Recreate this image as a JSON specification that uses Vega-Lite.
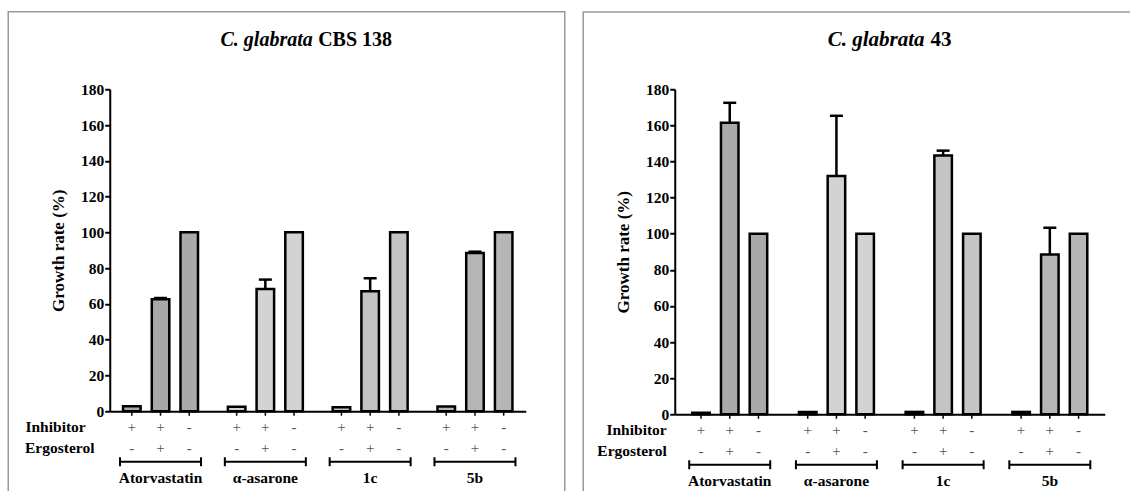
{
  "$schema": "https://vega.github.io/schema/vega-lite/v6.json",
  "padding": {"left": 6.75, "top": 10.25, "right": 0, "bottom": 0},
  "spacing": 16,
  "config": {
    "view": {"stroke": null},
    "font": "Liberation Serif",
    "text": {"font": "Liberation Serif"},
    "axisY": {
      "labelFont": "Liberation Serif", "labelFontWeight": "bold", "labelFontSize": 15.5, "labelColor": "black", "labelOverlap": false,
      "tickCount": 10, "tickColor": "black", "tickWidth": 2, "tickSize": 5, "labelPadding": 1,
      "domainColor": "black", "domainWidth": 2, "grid": false,
      "titleFont": "Liberation Serif", "titleFontWeight": "bold", "titleFontSize": 17, "titleColor": "black", "titlePadding": 13
    }
  },
  "datasets": {
    "bars": [
      {"strain": "CBS 138", "group": "Atorvastatin", "cond": "inh", "inhibitor": "+", "ergosterol": "-", "value": 2.8, "err_top": null},
      {"strain": "CBS 138", "group": "Atorvastatin", "cond": "inh+erg", "inhibitor": "+", "ergosterol": "+", "value": 62.6, "err_top": 63.3},
      {"strain": "CBS 138", "group": "Atorvastatin", "cond": "ctrl", "inhibitor": "-", "ergosterol": "-", "value": 100, "err_top": null},
      {"strain": "CBS 138", "group": "α-asarone", "cond": "inh", "inhibitor": "+", "ergosterol": "-", "value": 2.5, "err_top": null},
      {"strain": "CBS 138", "group": "α-asarone", "cond": "inh+erg", "inhibitor": "+", "ergosterol": "+", "value": 68.4, "err_top": 73.6},
      {"strain": "CBS 138", "group": "α-asarone", "cond": "ctrl", "inhibitor": "-", "ergosterol": "-", "value": 100, "err_top": null},
      {"strain": "CBS 138", "group": "1c", "cond": "inh", "inhibitor": "+", "ergosterol": "-", "value": 2.3, "err_top": null},
      {"strain": "CBS 138", "group": "1c", "cond": "inh+erg", "inhibitor": "+", "ergosterol": "+", "value": 67.1, "err_top": 74.3},
      {"strain": "CBS 138", "group": "1c", "cond": "ctrl", "inhibitor": "-", "ergosterol": "-", "value": 100, "err_top": null},
      {"strain": "CBS 138", "group": "5b", "cond": "inh", "inhibitor": "+", "ergosterol": "-", "value": 2.7, "err_top": null},
      {"strain": "CBS 138", "group": "5b", "cond": "inh+erg", "inhibitor": "+", "ergosterol": "+", "value": 88.5, "err_top": 89.2},
      {"strain": "CBS 138", "group": "5b", "cond": "ctrl", "inhibitor": "-", "ergosterol": "-", "value": 100, "err_top": null},
      {"strain": "43", "group": "Atorvastatin", "cond": "inh", "inhibitor": "+", "ergosterol": "-", "value": 0.8, "err_top": null},
      {"strain": "43", "group": "Atorvastatin", "cond": "inh+erg", "inhibitor": "+", "ergosterol": "+", "value": 161.5, "err_top": 172.5},
      {"strain": "43", "group": "Atorvastatin", "cond": "ctrl", "inhibitor": "-", "ergosterol": "-", "value": 100, "err_top": null},
      {"strain": "43", "group": "α-asarone", "cond": "inh", "inhibitor": "+", "ergosterol": "-", "value": 1.2, "err_top": null},
      {"strain": "43", "group": "α-asarone", "cond": "inh+erg", "inhibitor": "+", "ergosterol": "+", "value": 132, "err_top": 165.3},
      {"strain": "43", "group": "α-asarone", "cond": "ctrl", "inhibitor": "-", "ergosterol": "-", "value": 100, "err_top": null},
      {"strain": "43", "group": "1c", "cond": "inh", "inhibitor": "+", "ergosterol": "-", "value": 1.3, "err_top": null},
      {"strain": "43", "group": "1c", "cond": "inh+erg", "inhibitor": "+", "ergosterol": "+", "value": 143.3, "err_top": 146},
      {"strain": "43", "group": "1c", "cond": "ctrl", "inhibitor": "-", "ergosterol": "-", "value": 100, "err_top": null},
      {"strain": "43", "group": "5b", "cond": "inh", "inhibitor": "+", "ergosterol": "-", "value": 1.3, "err_top": null},
      {"strain": "43", "group": "5b", "cond": "inh+erg", "inhibitor": "+", "ergosterol": "+", "value": 88.5, "err_top": 103.3},
      {"strain": "43", "group": "5b", "cond": "ctrl", "inhibitor": "-", "ergosterol": "-", "value": 100, "err_top": null}
    ]
  },
  "hconcat": [
    {
      "width": 416, "height": 322,
      "resolve": {"scale": {"x": "independent"}},
      "layer": [
        {
          "data": {"name": "bars"},
          "transform": [{"filter": "datum.strain === 'CBS 138'"}],
          "encoding": {
            "x": {"field": "group", "type": "nominal", "scale": {"domain": ["Atorvastatin", "α-asarone", "1c", "5b"], "paddingInner": 0.178, "paddingOuter": 0.0735},
                  "axis": {"title": null, "labels": false, "ticks": false, "domain": true, "domainColor": "black", "domainWidth": 2}},
            "xOffset": {"field": "cond", "type": "nominal", "scale": {"domain": ["inh", "inh+erg", "ctrl"], "paddingInner": 0.39, "paddingOuter": 0.195}}
          },
          "layer": [
            {
              "mark": {"type": "bar", "stroke": "black", "strokeWidth": 2.5},
              "encoding": {
                "y": {"field": "value", "type": "quantitative", "scale": {"domain": [0, 180], "nice": false},
                      "axis": {"title": "Growth rate (%)", "labelOverlap": false, "tickCount": 10, "values": [0, 20, 40, 60, 80, 100, 120, 140, 160, 180]}},
                "fill": {"field": "group", "type": "nominal", "scale": {"domain": ["Atorvastatin", "α-asarone", "1c", "5b"], "range": ["#a9a9a9", "#d3d3d3", "#c4c4c4", "#b6b6b6"]}, "legend": null}
              }
            },
            {
              "transform": [{"filter": "isValid(datum.err_top)"}],
              "mark": {"type": "rule", "color": "black", "strokeWidth": 2.5},
              "encoding": {"y": {"field": "value", "type": "quantitative"}, "y2": {"field": "err_top"}}
            },
            {
              "transform": [{"filter": "isValid(datum.err_top)"}],
              "mark": {"type": "tick", "color": "black", "thickness": 2.5, "size": 13, "opacity": 1},
              "encoding": {"y": {"field": "err_top", "type": "quantitative"}}
            },
            {
              "mark": {"type": "rule", "color": "black", "strokeWidth": 1.5},
              "encoding": {"y": {"datum": 0}, "y2": {"datum": -2.5}}
            },
            {
              "mark": {"type": "text", "font": "Liberation Serif", "fontSize": 15, "color": "#555", "baseline": "middle"},
              "encoding": {"y": {"datum": -9.0}, "text": {"field": "inhibitor"}}
            },
            {
              "mark": {"type": "text", "font": "Liberation Serif", "fontSize": 15, "color": "#555", "baseline": "middle"},
              "encoding": {"y": {"datum": -20.6}, "text": {"field": "ergosterol"}}
            },
            {
              "transform": [{"filter": "datum.cond === 'inh+erg'"}],
              "mark": {"type": "point", "shape": "M-1,0L1,0M-1,-0.111L-1,0.111M1,-0.111L1,0.111", "size": 6561, "filled": false, "color": "black", "strokeWidth": 2, "opacity": 1},
              "encoding": {"y": {"datum": -28.2}}
            },
            {
              "transform": [{"filter": "datum.cond === 'inh+erg'"}],
              "mark": {"type": "text", "font": "Liberation Serif", "fontSize": 15.5, "fontWeight": "bold", "color": "black", "baseline": "middle"},
              "encoding": {"y": {"datum": -37.2}, "text": {"field": "group"}}
            }
          ]
        },
        {
          "data": {"values": [{}]},
          "layer": [
            {
              "mark": {"type": "rect", "fill": "white", "fillOpacity": 0, "stroke": "#9a9a9a", "strokeWidth": 1.5},
              "encoding": {
                "x": {"datum": -0.244, "type": "quantitative", "scale": {"domain": [0, 1], "nice": false, "zero": false}, "axis": null},
                "x2": {"datum": 1.0938},
                "y": {"datum": 223.3, "type": "quantitative"},
                "y2": {"datum": -60}
              }
            },
            {
              "mark": {"type": "text", "font": "Liberation Serif", "fontSize": 20, "fontWeight": "bold", "fontStyle": "italic", "align": "right", "baseline": "alphabetic", "color": "black"},
              "encoding": {"x": {"datum": 0.488, "type": "quantitative"}, "y": {"datum": 204.2, "type": "quantitative"}, "text": {"value": "C. glabrata"}}
            },
            {
              "mark": {"type": "text", "font": "Liberation Serif", "fontSize": 20, "fontWeight": "bold", "align": "left", "baseline": "alphabetic", "color": "black"},
              "encoding": {"x": {"datum": 0.501, "type": "quantitative"}, "y": {"datum": 204.2, "type": "quantitative"}, "text": {"value": "CBS 138"}}
            },
            {
              "mark": {"type": "text", "font": "Liberation Serif", "fontSize": 15.5, "fontWeight": "bold", "align": "right", "baseline": "middle", "color": "black"},
              "encoding": {"x": {"datum": -0.0577, "type": "quantitative"}, "y": {"datum": -9.0, "type": "quantitative"}, "text": {"value": "Inhibitor"}}
            },
            {
              "mark": {"type": "text", "font": "Liberation Serif", "fontSize": 15.5, "fontWeight": "bold", "align": "right", "baseline": "middle", "color": "black"},
              "encoding": {"x": {"datum": -0.0368, "type": "quantitative"}, "y": {"datum": -20.6, "type": "quantitative"}, "text": {"value": "Ergosterol"}}
            }
          ]
        }
      ]
    },
    {
      "width": 430, "height": 325,
      "resolve": {"scale": {"x": "independent"}},
      "layer": [
        {
          "data": {"name": "bars"},
          "transform": [{"filter": "datum.strain === '43'"}],
          "encoding": {
            "x": {"field": "group", "type": "nominal", "scale": {"domain": ["Atorvastatin", "α-asarone", "1c", "5b"], "paddingInner": 0.193, "paddingOuter": 0.1115},
                  "axis": {"title": null, "labels": false, "ticks": false, "domain": true, "domainColor": "black", "domainWidth": 2}},
            "xOffset": {"field": "cond", "type": "nominal", "scale": {"domain": ["inh", "inh+erg", "ctrl"], "paddingInner": 0.39, "paddingOuter": 0.195}}
          },
          "layer": [
            {
              "mark": {"type": "bar", "stroke": "black", "strokeWidth": 2.5},
              "encoding": {
                "y": {"field": "value", "type": "quantitative", "scale": {"domain": [0, 180], "nice": false},
                      "axis": {"title": "Growth rate (%)", "labelOverlap": false, "tickCount": 10, "values": [0, 20, 40, 60, 80, 100, 120, 140, 160, 180]}},
                "fill": {"field": "group", "type": "nominal", "scale": {"domain": ["Atorvastatin", "α-asarone", "1c", "5b"], "range": ["#a9a9a9", "#d3d3d3", "#c4c4c4", "#b6b6b6"]}, "legend": null}
              }
            },
            {
              "transform": [{"filter": "isValid(datum.err_top)"}],
              "mark": {"type": "rule", "color": "black", "strokeWidth": 2.5},
              "encoding": {"y": {"field": "value", "type": "quantitative"}, "y2": {"field": "err_top"}}
            },
            {
              "transform": [{"filter": "isValid(datum.err_top)"}],
              "mark": {"type": "tick", "color": "black", "thickness": 2.5, "size": 13, "opacity": 1},
              "encoding": {"y": {"field": "err_top", "type": "quantitative"}}
            },
            {
              "mark": {"type": "rule", "color": "black", "strokeWidth": 1.5},
              "encoding": {"y": {"datum": 0}, "y2": {"datum": -2.5}}
            },
            {
              "mark": {"type": "text", "font": "Liberation Serif", "fontSize": 15, "color": "#555", "baseline": "middle"},
              "encoding": {"y": {"datum": -8.9}, "text": {"field": "inhibitor"}}
            },
            {
              "mark": {"type": "text", "font": "Liberation Serif", "fontSize": 15, "color": "#555", "baseline": "middle"},
              "encoding": {"y": {"datum": -20.4}, "text": {"field": "ergosterol"}}
            },
            {
              "transform": [{"filter": "datum.cond === 'inh+erg'"}],
              "mark": {"type": "point", "shape": "M-1,0L1,0M-1,-0.111L-1,0.111M1,-0.111L1,0.111", "size": 6561, "filled": false, "color": "black", "strokeWidth": 2, "opacity": 1},
              "encoding": {"y": {"datum": -28}}
            },
            {
              "transform": [{"filter": "datum.cond === 'inh+erg'"}],
              "mark": {"type": "text", "font": "Liberation Serif", "fontSize": 15.5, "fontWeight": "bold", "color": "black", "baseline": "middle"},
              "encoding": {"y": {"datum": -36.8}, "text": {"field": "group"}}
            }
          ]
        },
        {
          "data": {"values": [{}]},
          "layer": [
            {
              "mark": {"type": "rect", "fill": "white", "fillOpacity": 0, "stroke": "#9a9a9a", "strokeWidth": 1.5},
              "encoding": {
                "x": {"datum": -0.2128, "type": "quantitative", "scale": {"domain": [0, 1], "nice": false, "zero": false}, "axis": null},
                "x2": {"datum": 1.0744},
                "y": {"datum": 222.8, "type": "quantitative"},
                "y2": {"datum": -60}
              }
            },
            {
              "mark": {"type": "text", "font": "Liberation Serif", "fontSize": 21, "fontWeight": "bold", "fontStyle": "italic", "align": "right", "baseline": "alphabetic", "color": "black"},
              "encoding": {"x": {"datum": 0.581, "type": "quantitative"}, "y": {"datum": 203.7, "type": "quantitative"}, "text": {"value": "C. glabrata"}}
            },
            {
              "mark": {"type": "text", "font": "Liberation Serif", "fontSize": 21, "fontWeight": "bold", "align": "left", "baseline": "alphabetic", "color": "black"},
              "encoding": {"x": {"datum": 0.595, "type": "quantitative"}, "y": {"datum": 203.7, "type": "quantitative"}, "text": {"value": "43"}}
            },
            {
              "mark": {"type": "text", "font": "Liberation Serif", "fontSize": 15.5, "fontWeight": "bold", "align": "right", "baseline": "middle", "color": "black"},
              "encoding": {"x": {"datum": -0.0186, "type": "quantitative"}, "y": {"datum": -8.9, "type": "quantitative"}, "text": {"value": "Inhibitor"}}
            },
            {
              "mark": {"type": "text", "font": "Liberation Serif", "fontSize": 15.5, "fontWeight": "bold", "align": "right", "baseline": "middle", "color": "black"},
              "encoding": {"x": {"datum": -0.0186, "type": "quantitative"}, "y": {"datum": -20.4, "type": "quantitative"}, "text": {"value": "Ergosterol"}}
            }
          ]
        }
      ]
    }
  ]
}
